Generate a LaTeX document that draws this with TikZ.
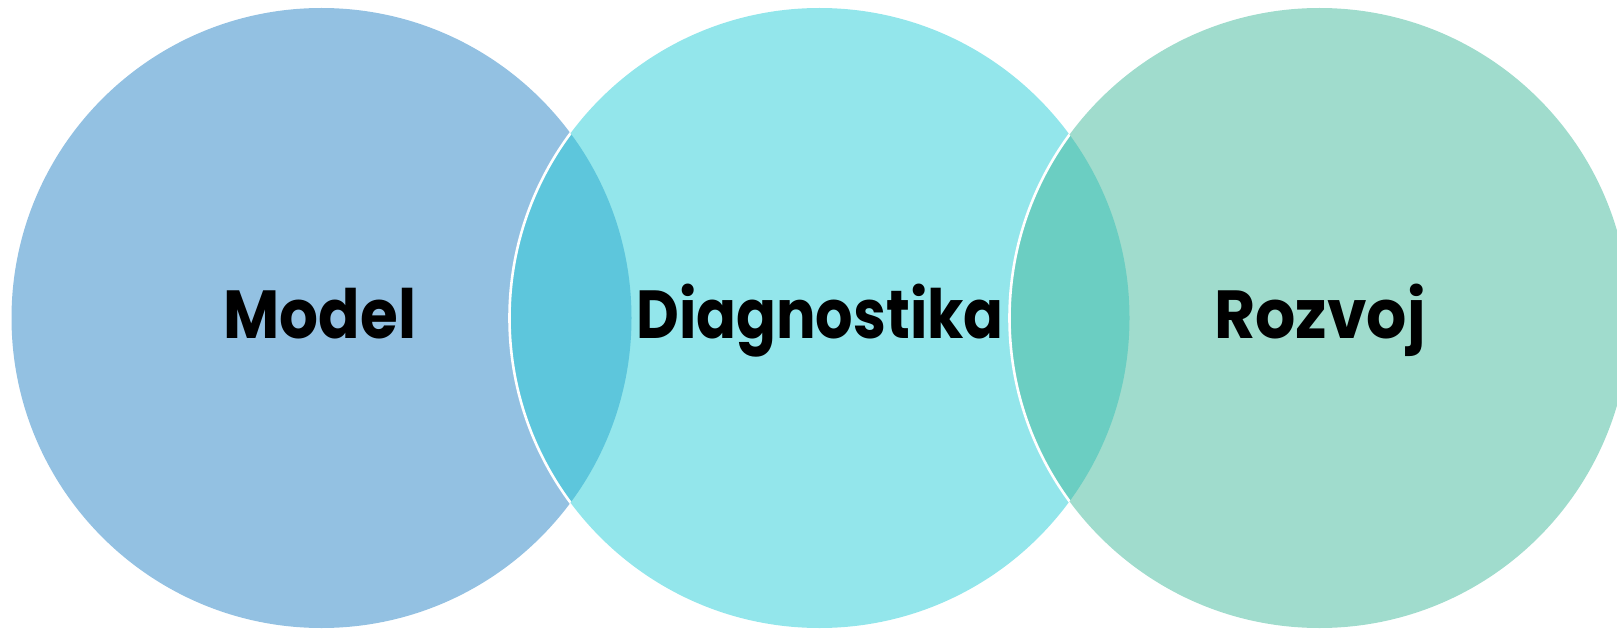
\documentclass[tikz,border=0pt]{standalone}
\usepackage{fontspec}
\setmainfont{Poppins}
\usepackage{graphicx}
\definecolor{cA}{HTML}{93C1E2}
\definecolor{cB}{HTML}{93E6EB}
\definecolor{cC}{HTML}{A0DCCD}
\definecolor{lAB}{HTML}{5DC6DC}
\definecolor{lBC}{HTML}{6BCEC2}
\newcommand{\narrowtxt}[2]{\scalebox{#1}[1]{#2}}
\tikzset{
  venn/.style={circle, minimum size=310pt, inner sep=0pt, draw=none},
  lbl/.style={anchor=base, font=\fontsize{34}{40}\selectfont\bfseries, text=black, inner sep=0pt},
  rim/.style={draw=white, line width=1.3pt}
}
\begin{document}
\begin{tikzpicture}
\useasboundingbox (0,0) rectangle (808.5pt,314pt);
\node[venn, fill=cA] (c1) at (160.75pt,155pt) {};
\node[venn, fill=cB] (c2) at (409.75pt,155pt) {};
\node[venn, fill=cC] (c3) at (659.75pt,155pt) {};
\begin{scope}
  \clip (c1.center) circle (155pt);
  \fill[lAB] (c2.center) circle (155pt);
  \draw[rim] (c2.center) circle (155pt);
\end{scope}
\begin{scope}
  \clip (c2.center) circle (155pt);
  \fill[lBC] (c3.center) circle (155pt);
  \draw[rim] (c3.center) circle (155pt);
\end{scope}
\node[lbl] (t1) at (160pt,145pt) {\narrowtxt{0.9}{Model}};
\node[lbl] (t2) at (410pt,145pt) {\narrowtxt{0.865}{Diagnostika}};
\node[lbl] (t3) at (660pt,145pt) {\narrowtxt{0.93}{Rozvoj}};
\end{tikzpicture}
\end{document}
